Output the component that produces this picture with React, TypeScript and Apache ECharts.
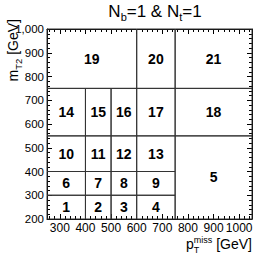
import React, { useEffect, useRef } from 'react';
import * as echarts from 'echarts';

const binIds = [1, 2, 3, 4, 5, 6, 7, 8, 9, 10, 11, 12, 13, 14, 15, 16, 17, 18, 19, 20, 21];
const binXLow = [250, 400, 500, 600, 750, 250, 400, 500, 600, 250, 400, 500, 600, 250, 400, 500, 600, 750, 250, 600, 750];
const binXHigh = [400, 500, 600, 750, 1050, 400, 500, 600, 750, 400, 500, 600, 750, 400, 500, 600, 750, 1050, 600, 750, 1050];
const binYLow = [200, 200, 200, 200, 200, 300, 300, 300, 300, 400, 400, 400, 400, 550, 550, 550, 550, 550, 750, 750, 750];
const binYHigh = [300, 300, 300, 300, 550, 400, 400, 400, 400, 550, 550, 550, 550, 750, 750, 750, 750, 750, 1000, 1000, 1000];

const xRange = [250, 1050];
const yRange = [200, 1000];

const FONT = '"Liberation Sans", Arial, Helvetica, sans-serif';

type Seg = { t: string; fs: number; dy: number; stack?: boolean };

let ctx: CanvasRenderingContext2D | null = null;
function measure(text: string, fs: number) {
  if (!ctx) ctx = document.createElement('canvas').getContext('2d');
  ctx!.font = `${fs}px ${FONT}`;
  return ctx!.measureText(text).width;
}

function layoutSegs(segs: Seg[], anchorX: number, align: 'left' | 'center' | 'right', baseline: number) {
  let total = 0;
  let i = 0;
  const widths: number[] = [];
  while (i < segs.length) {
    const w = measure(segs[i].t, segs[i].fs);
    if (segs[i].stack && i + 1 < segs.length) {
      const w2 = measure(segs[i + 1].t, segs[i + 1].fs);
      widths.push(Math.max(w, w2));
      total += Math.max(w, w2);
      i += 2;
    } else {
      widths.push(w);
      total += w;
      i += 1;
    }
  }
  let x = align === 'left' ? anchorX : align === 'center' ? anchorX - total / 2 : anchorX - total;
  const out: any[] = [];
  i = 0;
  let k = 0;
  while (i < segs.length) {
    const group = segs[i].stack && i + 1 < segs.length ? [segs[i], segs[i + 1]] : [segs[i]];
    group.forEach((s) => {
      out.push({
        type: 'text',
        x,
        y: baseline + s.dy - 0.3465 * s.fs,
        style: {
          text: s.t,
          fontSize: s.fs,
          fontFamily: FONT,
          fill: '#000',
          align: 'left',
          verticalAlign: 'middle',
        },
      });
    });
    x += widths[k];
    k += 1;
    i += group.length;
  }
  return out;
}

export default function App() {
  const ref = useRef<HTMLDivElement>(null);
  useEffect(() => {
    const chart = echarts.init(ref.current!, undefined, { renderer: 'svg' });
    const data = binIds.map((id, i) => [binXLow[i], binXHigh[i], binYLow[i], binYHigh[i], id]);

    const titleSegs: Seg[] = [
      { t: 'N', fs: 17, dy: 0 },
      { t: 'b', fs: 11, dy: 4 },
      { t: '=1 & N', fs: 17, dy: 0 },
      { t: 't', fs: 11, dy: 4 },
      { t: '=1', fs: 17, dy: 0 },
    ];
    const xTitleSegs: Seg[] = [
      { t: 'p', fs: 14, dy: 0 },
      { t: 'miss', fs: 9, dy: -6, stack: true },
      { t: 'T', fs: 9, dy: 4 },
      { t: ' [GeV]', fs: 14, dy: 0 },
    ];
    const yTitleSegs: Seg[] = [
      { t: 'm', fs: 14, dy: 0 },
      { t: 'T2', fs: 9.5, dy: 4 },
      { t: ' [GeV]', fs: 14, dy: 0 },
    ];

    const axisCommon = {
      type: 'value' as const,
      splitLine: { show: false },
      axisLine: { show: true, onZero: false, lineStyle: { color: '#000', width: 1 } },
      axisTick: { show: true, inside: true, length: 5, lineStyle: { color: '#000', width: 1 } },
      minorTick: { show: true, splitNumber: 5, length: 3, lineStyle: { color: '#000', width: 1 } },
    };
    const labelStyle = { color: '#000', fontSize: 12, fontFamily: FONT };

    chart.setOption({
      animation: false,
      grid: { left: 47, top: 29, right: 14, bottom: 39, containLabel: false, outerBoundsMode: 'none' },
      xAxis: [
        {
          ...axisCommon,
          min: xRange[0],
          max: xRange[1],
          splitNumber: 8,
          position: 'bottom',
          axisLabel: {
            ...labelStyle,
            margin: 3,
            formatter: (v: number) => (v % 100 === 0 ? String(v) : ''),
          },
        },
        {
          ...axisCommon,
          min: xRange[0],
          max: xRange[1],
          splitNumber: 8,
          position: 'top',
          axisLabel: { show: false },
        },
      ],
      yAxis: [
        {
          ...axisCommon,
          min: yRange[0],
          max: yRange[1],
          interval: 100,
          position: 'left',
          axisLabel: { ...labelStyle, fontSize: 11.5, margin: 3 },
        },
        {
          ...axisCommon,
          min: yRange[0],
          max: yRange[1],
          interval: 100,
          position: 'right',
          axisLabel: { show: false },
        },
      ],
      series: [
        {
          type: 'custom',
          xAxisIndex: 0,
          yAxisIndex: 0,
          data,
          encode: { x: [0, 1], y: [2, 3] },
          renderItem: (params: any, api: any) => {
            const p0 = api.coord([api.value(0), api.value(3)]);
            const p1 = api.coord([api.value(1), api.value(2)]);
            return {
              type: 'group',
              children: [
                {
                  type: 'rect',
                  shape: { x: p0[0], y: p0[1], width: p1[0] - p0[0], height: p1[1] - p0[1] },
                  style: { fill: 'none', stroke: '#333', lineWidth: 1 },
                },
                {
                  type: 'text',
                  style: {
                    text: String(api.value(4)),
                    x: (p0[0] + p1[0]) / 2,
                    y: (p0[1] + p1[1]) / 2,
                    align: 'center',
                    verticalAlign: 'middle',
                    fontSize: 14,
                    fontWeight: 'bold',
                    fontFamily: FONT,
                    fill: '#000',
                  },
                },
              ],
            };
          },
        },
      ],
      graphic: [
        ...layoutSegs(titleSegs, 155, 'center', 17),
        ...layoutSegs(xTitleSegs, 252, 'right', 249),
        {
          type: 'group',
          x: 17.5,
          y: 19,
          rotation: Math.PI / 2,
          children: layoutSegs(yTitleSegs, 0, 'right', 0),
        },
      ],
    });
    return () => chart.dispose();
  }, []);
  return <div ref={ref} style={{ position: 'absolute', left: 0, top: 0, width: 266, height: 258 }} />;
}
